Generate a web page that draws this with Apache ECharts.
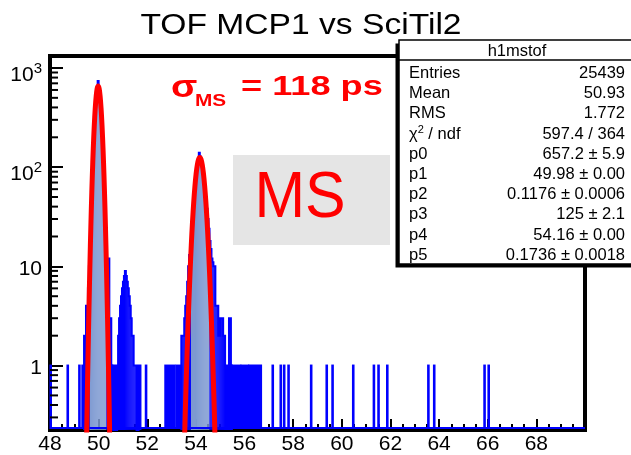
<!DOCTYPE html>
<html>
<head>
<meta charset="utf-8">
<script src="https://cdn.jsdelivr.net/npm/echarts@6/dist/echarts.min.js"></script>
<style>
html, body { margin: 0; padding: 0; background: #fff; }
#main { width: 631px; height: 455px; }
</style>
</head>
<body>
<div id="main"></div>
<script>
var chartDom = document.getElementById('main');
var myChart = echarts.init(chartDom);
var option;

// axis ranges
var xMin = 48, xMax = 70;
var yMin = 0.224, yMax = 1320;
var yMinorTicks = [0.3, 0.4, 0.5, 0.6, 0.7, 0.8, 0.9, 2, 3, 4, 5, 6, 7, 8, 9,
	20, 30, 40, 50, 60, 70, 80, 90, 200, 300, 400, 500, 600, 700, 800, 900];

// histogram h1mstof, bins of 0.04 ns around the peaks (bin centres / counts)
var binWidth = 0.04;
var peak1X = [49.42, 49.46, 49.50, 49.54, 49.58, 49.62, 49.66, 49.70, 49.74, 49.78,
	49.82, 49.86, 49.90, 49.94, 49.98, 50.02, 50.06, 50.10, 50.14, 50.18,
	50.22, 50.26, 50.30, 50.34, 50.38, 50.42, 50.46, 50.50, 50.54];
var peak1N = [2, 2, 4, 4, 6, 10, 20, 42, 85, 160,
	262, 400, 530, 640, 740, 640, 520, 395, 265, 160,
	90, 45, 22, 12, 12, 12, 3, 3, 1];
var sideX = [50.58, 50.62, 50.66, 50.70, 50.74, 50.78, 50.82, 50.86, 50.90, 50.94,
	50.98, 51.02, 51.06, 51.10, 51.14, 51.18, 51.22, 51.26, 51.30, 51.34,
	51.38, 51.42, 51.46, 51.50, 51.54, 51.58, 51.62, 51.66, 51.70];
var sideN = [1, 0, 1, 1, 0, 1, 2, 3, 4, 5,
	6, 7, 8, 9, 8, 7, 6, 5, 4, 3,
	2, 2, 1, 1, 1, 0, 0, 1, 1];
var peak2X = [53.42, 53.46, 53.50, 53.54, 53.58, 53.62, 53.66, 53.70, 53.74, 53.78,
	53.82, 53.86, 53.90, 53.94, 53.98, 54.02, 54.06, 54.10, 54.14, 54.18,
	54.22, 54.26, 54.30, 54.34, 54.38, 54.42, 54.46, 54.50, 54.54, 54.58,
	54.62, 54.66, 54.70, 54.74, 54.78, 54.82, 54.86, 54.90, 54.94, 54.98,
	55.02, 55.06, 55.10, 55.14, 55.18, 55.22, 55.26, 55.30, 55.34, 55.38,
	55.42, 55.46];
var peak2N = [2, 2, 2, 3, 4, 5, 7, 10, 13, 18,
	24, 32, 42, 55, 68, 85, 100, 118, 140, 128,
	118, 100, 88, 72, 60, 48, 38, 30, 24, 18,
	15, 12, 11, 10, 10, 4, 4, 4, 2, 2,
	3, 3, 3, 2, 2, 1, 1, 1, 1, 3,
	3, 1];
// runs of single-entry bins (x from, x to)
var bandRanges = [[52.74, 53.12], [53.19, 53.40], [55.48, 55.83], [55.87, 56.15], [56.19, 56.68]];
// isolated single-entry bins
var spikeX = [48.03, 48.73, 49.21, 49.34, 51.95, 57.16, 57.49, 57.63, 57.81, 58.74,
	59.38, 59.62, 60.47, 61.32, 61.51, 61.87, 63.56, 63.80, 65.87, 66.04];

// fit curve (red), read along the two humps
var fit1X = [49.46, 49.50, 49.54, 49.58, 49.62, 49.66, 49.70, 49.74, 49.78, 49.82,
	49.86, 49.90, 49.94, 49.98, 50.02, 50.06, 50.10, 50.14, 50.18, 50.22,
	50.26, 50.30, 50.34, 50.38, 50.42, 50.46, 50.50];
var fit1Y = [0.037, 0.158, 0.60, 2.02, 6.07, 16.2, 38.6, 81.9, 154.8, 260.5,
	390.5, 521.4, 620.3, 657.2, 620.3, 521.4, 390.5, 260.5, 154.8, 81.9,
	38.6, 16.2, 6.07, 2.02, 0.60, 0.158, 0.037];
var fit2X = [53.51, 53.56, 53.61, 53.66, 53.71, 53.76, 53.81, 53.86, 53.91, 53.96,
	54.01, 54.06, 54.11, 54.16, 54.21, 54.26, 54.31, 54.36, 54.41, 54.46,
	54.51, 54.56, 54.61, 54.66, 54.71, 54.76, 54.81];
var fit2Y = [0.113, 0.318, 0.827, 1.97, 4.34, 8.79, 16.4, 28.1, 44.3, 64.4,
	86.1, 105.9, 119.9, 125.0, 119.9, 105.9, 86.1, 64.4, 44.3, 28.1,
	16.4, 8.79, 4.34, 1.97, 0.827, 0.318, 0.113];

// stats box
var statNames = ['Entries', 'Mean', 'RMS', '{t|χ}{s|2}{t| / ndf}', 'p0', 'p1', 'p2', 'p3', 'p4', 'p5'];
var statValues = ['25439', '50.93', '1.772', '597.4 / 364', '657.2 ± 5.9', '49.98 ± 0.00',
	'0.1176 ± 0.0006', '125 ± 2.1', '54.16 ± 0.00', '0.1736 ± 0.0018'];

var FONT = 'Liberation Sans, Arial, Helvetica, sans-serif';
var BLUE = '#0000ff', LIGHT = '#7d99d1';
// sparse, noisy bins look solid blue; only the dense peak cores show the light fill
var lightFromCount = 20;
var segments = [
	{x: peak1X, n: peak1N},
	{x: sideX, n: sideN},
	{x: peak2X, n: peak2N}
];

function renderSegment(params, api) {
	var seg = segments[params.dataIndex];
	var half = binWidth / 2;
	var children = [];
	var pts = [api.coord([seg.x[0] - half, yMin])];
	for (var i = 0; i < seg.x.length; i++) {
		var n = seg.n[i] > 0 ? seg.n[i] : yMin;
		var a = api.coord([seg.x[i] - half, n]);
		var b = api.coord([seg.x[i] + half, yMin]);
		pts.push(a);
		pts.push([b[0], a[1]]);
		if (seg.n[i] > 0) {
			children.push({type: 'rect', shape: {x: a[0] - 0.1, y: a[1], width: b[0] - a[0] + 0.2, height: b[1] - a[1]},
				style: {fill: seg.n[i] >= lightFromCount ? LIGHT : BLUE}});
		}
	}
	pts.push(api.coord([seg.x[seg.x.length - 1] + half, yMin]));
	children.push({type: 'polyline', shape: {points: pts}, style: {stroke: BLUE, lineWidth: 2, fill: null}});
	return {type: 'group', children: children};
}

function renderBand(params, api) {
	var a = api.coord([api.value(0), 1]);
	var b = api.coord([api.value(1), yMin]);
	return {
		type: 'rect',
		shape: {x: a[0] - 1, y: a[1] - 1, width: b[0] - a[0] + 2, height: b[1] - a[1]},
		style: {fill: BLUE}
	};
}

function renderSpike(params, api) {
	var a = api.coord([api.value(0), api.value(1)]);
	var b = api.coord([api.value(0), yMin]);
	return {
		type: 'rect',
		shape: {x: a[0] - 1.3, y: a[1] - 1, width: 2.6, height: b[1] - a[1]},
		style: {fill: BLUE}
	};
}

function renderBaseline(params, api) {
	var a = api.coord([xMin, yMin]);
	var b = api.coord([xMax, yMin]);
	return {
		type: 'line',
		shape: {x1: a[0], y1: a[1] - 2, x2: b[0], y2: b[1] - 2},
		style: {stroke: BLUE, lineWidth: 2}
	};
}

function renderMinorTick(params, api) {
	var a = api.coord([xMin, api.value(1)]);
	return {
		type: 'line',
		shape: {x1: a[0], y1: a[1], x2: a[0] + 8, y2: a[1]},
		style: {stroke: '#000', lineWidth: 2}
	};
}

function pairs(xs, ys) {
	return xs.map(function (x, i) { return [x, ys[i]]; });
}

var graphics = [
	{type: 'text', x: 301, y: 26, scaleX: 1.12, z: 100,
		style: {text: 'TOF MCP1 vs SciTil2', fill: '#000', fontSize: 30, fontFamily: FONT,
			align: 'center', verticalAlign: 'middle', textAlign: 'center', textVerticalAlign: 'middle'}},
	{type: 'rect', z: 90, shape: {x: 233, y: 155, width: 157, height: 90}, style: {fill: '#e5e5e5'}},
	{type: 'text', x: 300, y: 199, scaleX: 0.95, z: 100,
		style: {text: 'MS', fill: '#ff0000', fontSize: 64, fontFamily: FONT,
			align: 'center', verticalAlign: 'middle', textAlign: 'center', textVerticalAlign: 'middle'}},
	{type: 'text', x: 171, y: 88, scaleX: 1.2, z: 100,
		style: {text: 'σ', fill: '#ff0000', fontSize: 32, fontWeight: 'bold', fontFamily: FONT,
			align: 'left', verticalAlign: 'middle', textAlign: 'left', textVerticalAlign: 'middle'}},
	{type: 'text', x: 195, y: 102, scaleX: 1.3, z: 100,
		style: {text: 'MS', fill: '#ff0000', fontSize: 16, fontWeight: 'bold', fontFamily: FONT,
			align: 'left', verticalAlign: 'middle', textAlign: 'left', textVerticalAlign: 'middle'}},
	{type: 'text', x: 241, y: 88, scaleX: 1.34, z: 100,
		style: {text: '= 118 ps', fill: '#ff0000', fontSize: 27, fontWeight: 'bold', fontFamily: FONT,
			align: 'left', verticalAlign: 'middle', textAlign: 'left', textVerticalAlign: 'middle'}},
	// stats box with shadow
	{type: 'rect', z: 100, shape: {x: 395.5, y: 43.5, width: 240, height: 224}, style: {fill: '#000'}},
	{type: 'rect', z: 101, shape: {x: 399, y: 40, width: 240, height: 224}, style: {fill: '#fff', stroke: '#000', lineWidth: 1.5}},
	{type: 'line', z: 102, shape: {x1: 399, y1: 60, x2: 631, y2: 60}, style: {stroke: '#000', lineWidth: 1.5}},
	{type: 'text', x: 517, y: 51, z: 102,
		style: {text: 'h1mstof', fill: '#000', fontSize: 16.5, fontFamily: FONT,
			align: 'center', verticalAlign: 'middle', textAlign: 'center', textVerticalAlign: 'middle'}}
];
statNames.forEach(function (name, i) {
	var y = 73.5 + i * 20.2;
	graphics.push({type: 'text', x: 409, y: y, z: 102,
		style: {text: name, fill: '#000', fontSize: 16.5, fontFamily: FONT,
			align: 'left', verticalAlign: 'middle', textAlign: 'left', textVerticalAlign: 'middle',
			rich: {t: {fontSize: 16.5, fontFamily: FONT}, s: {fontSize: 11, fontFamily: FONT, padding: [0, 0, 8, 0]}}}});
	graphics.push({type: 'text', x: 625, y: y, z: 102,
		style: {text: statValues[i], fill: '#000', fontSize: 16.5, fontFamily: FONT,
			align: 'right', verticalAlign: 'middle', textAlign: 'right', textVerticalAlign: 'middle'}});
});

option = {
	animation: false,
	backgroundColor: '#fff',
	grid: {
		left: 50, right: 46, top: 56, bottom: 22,
		show: true, borderColor: '#000', borderWidth: 4, backgroundColor: 'transparent'
	},
	xAxis: {
		type: 'value',
		min: xMin,
		max: xMax,
		interval: 2,
		axisLine: {show: false},
		axisTick: {inside: true, length: 11, lineStyle: {color: '#000', width: 2}},
		minorTick: {show: true, splitNumber: 4, length: 6, lineStyle: {color: '#000', width: 2}},
		splitLine: {show: false},
		axisLabel: {
			margin: 4, color: '#000', fontSize: 21, fontFamily: FONT,
			formatter: function (v) { return v >= xMax ? '' : String(v); }
		}
	},
	yAxis: {
		type: 'log',
		min: yMin,
		max: yMax,
		axisLine: {show: false},
		axisTick: {inside: true, length: 13, lineStyle: {color: '#000', width: 2}},
		splitLine: {show: false},
		axisLabel: {
			margin: 8, color: '#000', fontSize: 21, fontFamily: FONT,
			padding: [5, 0, 0, 0],
			formatter: function (v) {
				var e = Math.round(Math.log10(v));
				if (Math.abs(Math.log10(v) - e) > 1e-6) return '';
				if (e === 0) return '1';
				if (e === 1) return '10';
				return '{b|10}{sup|' + e + '}';
			},
			rich: {
				b: {fontSize: 21, fontFamily: FONT, color: '#000', verticalAlign: 'bottom'},
				sup: {fontSize: 15, fontFamily: FONT, color: '#000', verticalAlign: 'top', padding: [6, 0, 9, 0]}
			}
		}
	},
	graphic: graphics,
	series: [
		{type: 'custom', name: 'hist', coordinateSystem: 'cartesian2d', z: 2,
			renderItem: renderSegment, encode: {x: 0, y: 1},
			data: segments.map(function (s) { return [s.x[0], 1]; })},
		{type: 'custom', name: 'bands', z: 2, renderItem: renderBand, encode: {x: [0, 1], y: 2},
			data: bandRanges.map(function (r) { return [r[0], r[1], 1]; })},
		{type: 'custom', name: 'spikes', z: 2, renderItem: renderSpike, encode: {x: 0, y: 1},
			data: spikeX.map(function (x) { return [x, 1]; })},
		{type: 'custom', name: 'baseline', z: 2, renderItem: renderBaseline, encode: {x: 0, y: 1},
			data: [[xMin, 1]]},
		{type: 'line', name: 'fit1', z: 5, data: pairs(fit1X, fit1Y), showSymbol: false, smooth: 0.3,
			lineStyle: {color: '#ff0000', width: 5}, clip: true},
		{type: 'line', name: 'fit2', z: 5, data: pairs(fit2X, fit2Y), showSymbol: false, smooth: 0.3,
			lineStyle: {color: '#ff0000', width: 5}, clip: true},
		{type: 'custom', name: 'minorTicks', z: 6, renderItem: renderMinorTick, encode: {x: 0, y: 1},
			data: yMinorTicks.map(function (v) { return [xMin, v]; })}
	]
};

option && myChart.setOption(option);
</script>
</body>
</html>
